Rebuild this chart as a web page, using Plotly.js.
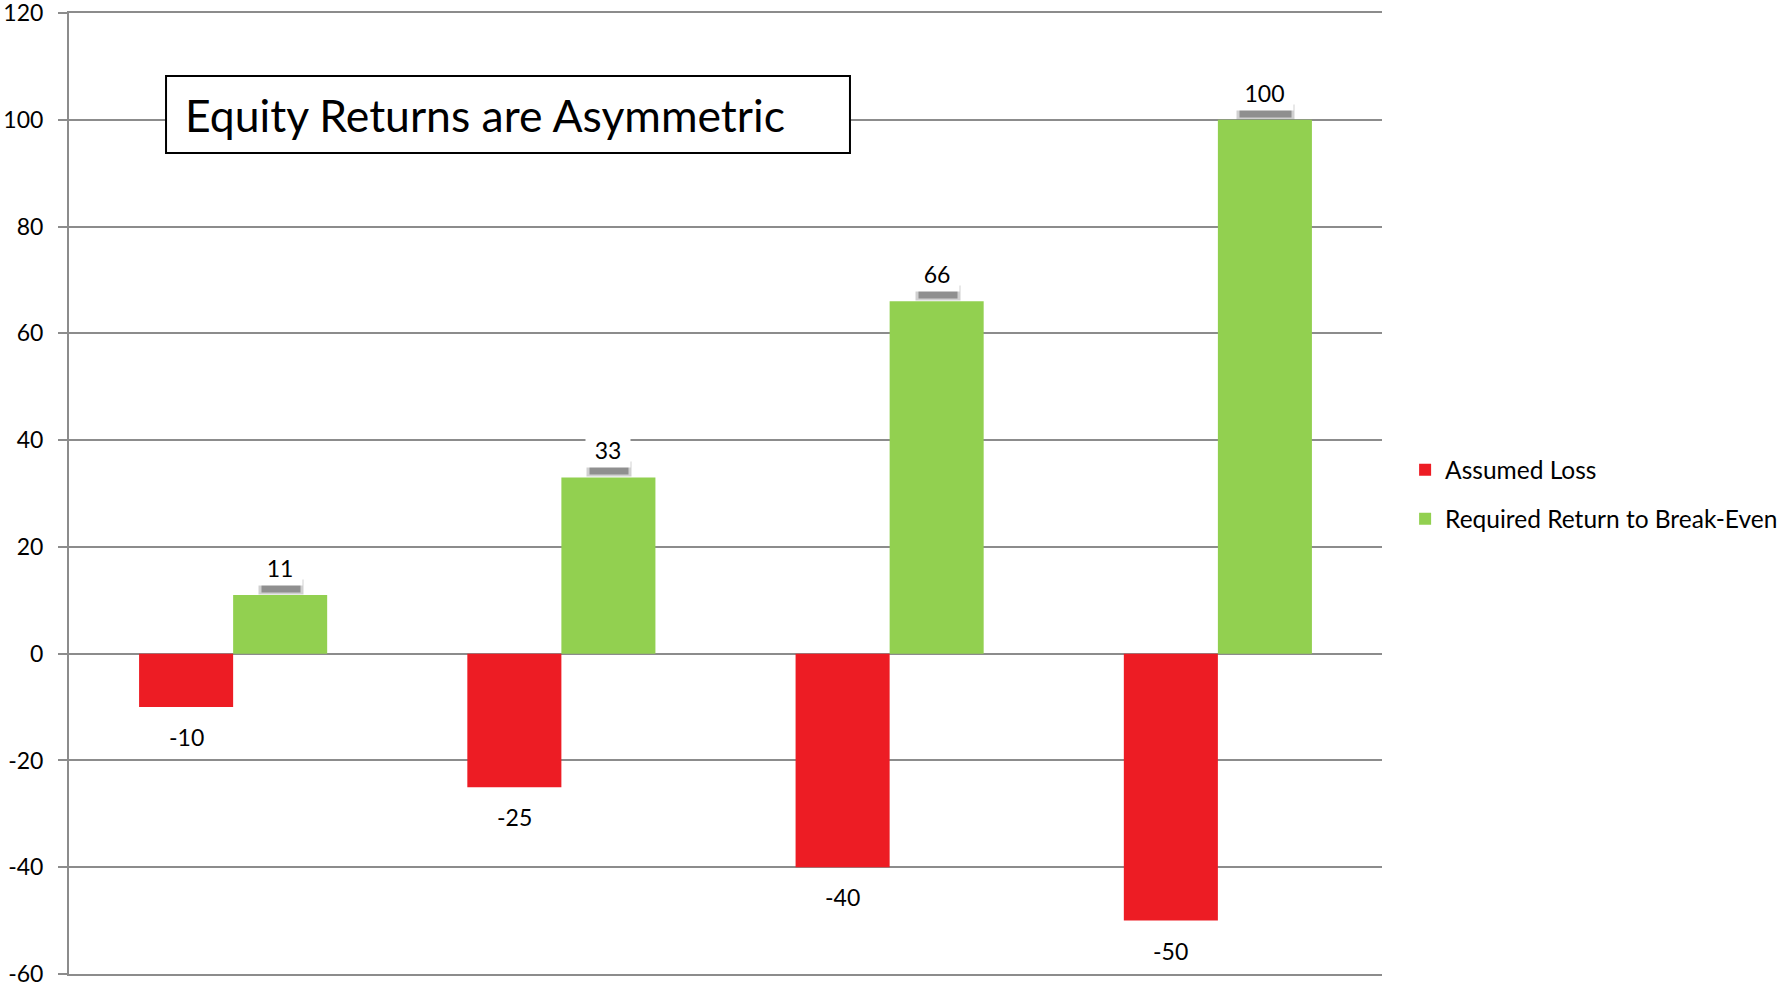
<!DOCTYPE html>
<html>
<head>
<meta charset="utf-8">
<script src="https://cdn.plot.ly/plotly-3.0.1.min.js"></script>
<style>html,body{margin:0;padding:0;background:#fff;}#chart{width:1782px;height:990px;}</style>
</head>
<body>
<div id="chart"></div>
<script>
const categories = ['10% loss', '25% loss', '40% loss', '50% loss'];
const assumedLoss = [-10, -25, -40, -50];
const requiredReturn = [11, 33, 66, 100];
const seriesNames = ['Assumed Loss', 'Required Return to Break-Even'];
const tickVals = [-60, -40, -20, 0, 20, 40, 60, 80, 100, 120];
const tickText = ['-60', '-40', '-20', '0', '20', '40', '60', '80', '100', '120'];
const chartTitle = 'Equity Returns are Asymmetric';

const RED = '#ED1C24', GREEN = '#92D050', GRID = '#8c8c8c';
const FONT = 'Lato, "Open Sans", sans-serif';
const HALF_BAR = 47;

const traces = [
  {type: 'bar', name: seriesNames[0], x: categories, y: assumedLoss,
   marker: {color: RED}, legendgroup: 'a', hoverinfo: 'skip'},
  {type: 'bar', name: seriesNames[1], x: categories, y: requiredReturn,
   marker: {color: GREEN}, legendgroup: 'b', hoverinfo: 'skip'}
];

const annotations = [];
// soft shadows under green labels
requiredReturn.forEach((v, i) => {
  const w = 16 + 13 * String(v).length;
  annotations.push({x: i, y: v, xref: 'x', yref: 'y', xshift: HALF_BAR + 1, text: '', showarrow: false,
    yanchor: 'bottom', yshift: 0, width: w + 2, height: 14,
    bgcolor: 'rgba(120,120,120,0.35)', borderpad: 0});
  annotations.push({x: i, y: v, xref: 'x', yref: 'y', xshift: HALF_BAR + 1, text: '', showarrow: false,
    yanchor: 'bottom', yshift: 2, width: w - 4, height: 10,
    bgcolor: 'rgba(90,90,90,0.55)', borderpad: 0});
});
requiredReturn.forEach((v, i) => {
  const w = 16 + 13 * String(v).length;
  annotations.push({x: i, y: v, xref: 'x', yref: 'y', xshift: HALF_BAR, text: String(v), showarrow: false,
    yanchor: 'bottom', yshift: 9, width: w, height: 33, bgcolor: '#ffffff', borderpad: 1,
    font: {family: FONT, size: 23, color: '#000'}});
});
assumedLoss.forEach((v, i) => {
  annotations.push({x: i, y: v, xref: 'x', yref: 'y', xshift: -HALF_BAR, text: String(v), showarrow: false,
    yanchor: 'top', yshift: -14, font: {family: FONT, size: 23, color: '#000'}});
});
annotations.push({x: 0.0868, y: 0.8943, xref: 'paper', yref: 'paper', xanchor: 'left', yanchor: 'middle',
  text: chartTitle, showarrow: false, font: {family: FONT, size: 44.5, color: '#000'}});

const layout = {
  width: 1782, height: 990,
  margin: {l: 69, r: 400, t: 13, b: 16, autoexpand: false},
  paper_bgcolor: '#fff', plot_bgcolor: '#fff',
  barmode: 'group', bargap: 0.427, bargroupgap: 0,
  font: {family: FONT, size: 23, color: '#000'},
  showlegend: true,
  legend: {x: 1.0176, y: 0.548, xanchor: 'left', yanchor: 'top', tracegroupgap: 14,
    traceorder: 'grouped', font: {family: FONT, size: 24.5, color: '#000'}, bgcolor: 'rgba(0,0,0,0)'},
  xaxis: {showticklabels: false, showgrid: false, zeroline: false, showline: true, mirror: true,
    linecolor: GRID, linewidth: 2, ticks: '', fixedrange: true},
  yaxis: {range: [-60, 120], tickvals: tickVals, ticktext: tickText, showgrid: true, gridcolor: GRID,
    gridwidth: 2, zeroline: false, showline: true, linecolor: GRID, linewidth: 2,
    ticks: 'outside', ticklen: 9, tickwidth: 2, tickcolor: GRID, ticklabelstandoff: 10,
    ticklabeloverflow: 'allow',
    tickfont: {family: FONT, size: 23, color: '#000'}, fixedrange: true},
  shapes: [{type: 'rect', xref: 'paper', yref: 'paper', x0: 0.0739, x1: 0.5948, y0: 0.8543, y1: 0.9344,
    fillcolor: '#fff', line: {color: '#000', width: 2}, layer: 'above'}],
  annotations: annotations
};

Plotly.newPlot('chart', traces, layout, {displayModeBar: false, staticPlot: true});
</script>
</body>
</html>
